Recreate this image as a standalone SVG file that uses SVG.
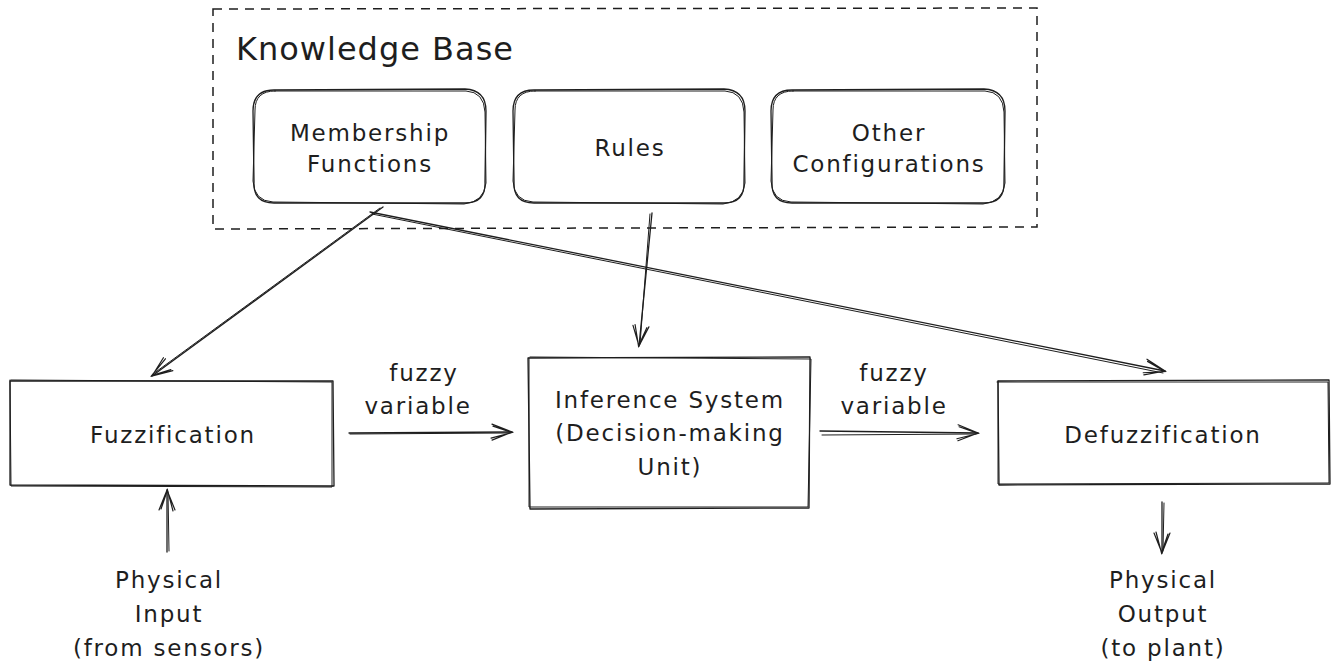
<svg xmlns="http://www.w3.org/2000/svg" width="1336" height="671" viewBox="0 0 1336 671">
<defs>
<style>
.s{fill:none;stroke:#1e1e1e;stroke-width:1.3;stroke-linecap:round;stroke-linejoin:round}
.s2{fill:none;stroke:#1e1e1e;stroke-width:1;stroke-linecap:round;stroke-linejoin:round}
.d{fill:none;stroke:#1e1e1e;stroke-width:1.5;stroke-dasharray:9 7}
.t{font-family:"DejaVu Sans","Liberation Sans",sans-serif;font-size:23px;letter-spacing:1.8px;fill:#1e1e1e;text-anchor:middle}
.h{font-family:"DejaVu Sans","Liberation Sans",sans-serif;font-size:32px;letter-spacing:1px;fill:#1e1e1e}
</style>
<marker id="ah" viewBox="-24 -12 28 24" markerWidth="28" markerHeight="24" refX="0" refY="0" orient="auto" markerUnits="userSpaceOnUse">
<path d="M-20,-8 L0,0 L-20,8 M-19,-6 L0,0.5 L-21,6" fill="none" stroke="#1e1e1e" stroke-width="1.2" stroke-linecap="round"/>
</marker>
</defs>
<rect width="1336" height="671" fill="#ffffff"/>

<g id="knowledge-base">
<path class="d" d="M213,9 L1037,8 L1037,227 L213,229 Z"/>
<text class="h" x="236" y="60">Knowledge Base</text>
</g>

<g id="membership-functions">
<path class="s" d="M274,90 L465,89 Q486,90 486,111 L485,182 Q486,203 465,203 L274,203 Q253,203 254,182 L253,111 Q253,90 274,90 Z"/>
<path class="s2" d="M275,91 L466,91 Q484,92 485,112 L486,183 Q484,202 464,204 L273,202 Q254,201 253,181 L255,110 Q255,91 275,91 Z"/>
<text class="t" x="370" y="141">Membership</text>
<text class="t" x="370" y="172">Functions</text>
</g>

<g id="rules">
<path class="s" d="M534,90 L724,89 Q745,90 745,111 L744,182 Q745,203 724,203 L534,203 Q513,203 514,182 L513,111 Q513,90 534,90 Z"/>
<path class="s2" d="M535,91 L725,91 Q743,92 744,112 L745,183 Q743,202 723,204 L533,202 Q514,201 513,181 L515,110 Q515,91 535,91 Z"/>
<text class="t" x="630" y="156">Rules</text>
</g>

<g id="other-configurations">
<path class="s" d="M792,90 L984,89 Q1005,90 1005,111 L1004,182 Q1005,203 984,203 L792,203 Q771,203 772,182 L771,111 Q771,90 792,90 Z"/>
<path class="s2" d="M793,91 L985,91 Q1003,92 1004,112 L1005,183 Q1003,202 983,204 L791,202 Q772,201 771,181 L773,110 Q773,91 793,91 Z"/>
<text class="t" x="889" y="141">Other</text>
<text class="t" x="889" y="172">Configurations</text>
</g>

<g id="fuzzification">
<path class="s" d="M10,381 L333,381 L334,486 L10,485 Z"/>
<path class="s2" d="M11,380 L332,382 L332,487 L11,486 L10,380"/>
<text class="t" x="173" y="443">Fuzzification</text>
</g>

<g id="inference-system">
<path class="s" d="M528,358 L810,357 L809,508 L530,509 Z"/>
<path class="s2" d="M530,357 L811,359 L808,507 L529,507 L529,358"/>
<text class="t" x="670" y="408">Inference System</text>
<text class="t" x="670" y="441">(Decision-making</text>
<text class="t" x="670" y="475">Unit)</text>
</g>

<g id="defuzzification">
<path class="s" d="M998,381 L1329,380 L1330,484 L999,485 Z"/>
<path class="s2" d="M997,382 L1328,382 L1329,483 L998,484 L998,381"/>
<text class="t" x="1163" y="443">Defuzzification</text>
</g>

<g id="physical-input">
<text class="t" x="169" y="588">Physical</text>
<text class="t" x="169" y="622">Input</text>
<text class="t" x="169" y="656">(from sensors)</text>
</g>

<g id="physical-output">
<text class="t" x="1163" y="588">Physical</text>
<text class="t" x="1163" y="622">Output</text>
<text class="t" x="1163" y="656">(to plant)</text>
</g>

<g id="connectors">
<path class="s" d="M383,207 L152,376" marker-end="url(#ah)"/>
<path class="s2" d="M380,208 L153,374"/>
<path class="s" d="M370,212 L1165,371" marker-end="url(#ah)"/>
<path class="s2" d="M372,214 L1163,373"/>
<path class="s" d="M652,213 L639,346" marker-end="url(#ah)"/>
<path class="s2" d="M650,214 L640,344"/>
<path class="s" d="M349,433 L512,432" marker-end="url(#ah)"/>
<path class="s2" d="M350,434 L510,433"/>
<path class="s" d="M820,431 L978,433" marker-end="url(#ah)"/>
<path class="s2" d="M822,435 L976,434"/>
<path class="s" d="M167,552 L167,490" marker-end="url(#ah)"/>
<path class="s2" d="M169,551 L168,492"/>
<path class="s" d="M1162,502 L1162,553" marker-end="url(#ah)"/>
<path class="s2" d="M1164,503 L1163,551"/>
<text class="t" x="424" y="381">fuzzy</text>
<text class="t" x="418" y="414">variable</text>
<text class="t" x="894" y="381">fuzzy</text>
<text class="t" x="894" y="414">variable</text>
</g>
</svg>
